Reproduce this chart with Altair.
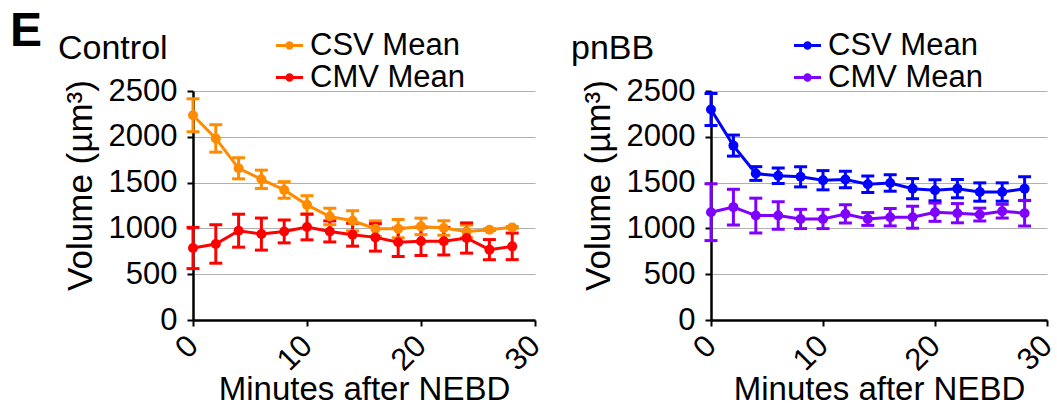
import altair as alt
import pandas as pd

minutes = [0, 2, 4, 6, 8, 10, 12, 14, 16, 18, 20, 22, 24, 26, 28]

ctrl_csv_mean = [2235, 1982, 1656, 1536, 1420, 1257, 1130, 1083, 997, 997, 1022, 1004, 967, 986, 1011]
ctrl_csv_err = [180, 150, 115, 100, 90, 100, 90, 110, 85, 100, 90, 80, 70, 10, 10]
ctrl_cmv_mean = [786, 830, 975, 938, 967, 1015, 967, 931, 902, 848, 859, 859, 895, 768, 804]
ctrl_cmv_err = [225, 210, 180, 175, 125, 140, 115, 125, 150, 155, 155, 150, 165, 110, 145]

pnbb_csv_mean = [2298, 1904, 1599, 1574, 1563, 1526, 1533, 1482, 1496, 1434, 1416, 1434, 1397, 1397, 1434]
pnbb_csv_err = [175, 115, 75, 85, 110, 105, 90, 90, 90, 110, 115, 100, 100, 100, 130]
pnbb_cmv_mean = [1177, 1232, 1140, 1140, 1103, 1103, 1158, 1103, 1122, 1122, 1177, 1166, 1151, 1188, 1166]
pnbb_cmv_err = [310, 195, 190, 150, 105, 105, 100, 70, 95, 120, 100, 105, 70, 75, 140]

series_names = ["CSV Mean", "CMV Mean"]
ctrl_colors = ["#FF8C00", "#FF0000"]
pnbb_colors = ["#0000FF", "#8000FF"]
y_ticks = [0, 500, 1000, 1500, 2000, 2500]
x_ticks = [0, 10, 20, 30]

FONT = "Liberation Sans"
SYMBOL = "M-1,0L1,0M-0.2,0A0.2,0.2,0,1,0,0.2,0A0.2,0.2,0,1,0,-0.2,0"


def make_df(csv_m, csv_e, cmv_m, cmv_e):
    rows = []
    for name, m, e in [(series_names[0], csv_m, csv_e), (series_names[1], cmv_m, cmv_e)]:
        for t, v, s in zip(minutes, m, e):
            rows.append({"t": t, "v": v, "lo": v - s, "hi": v + s, "series": name})
    return pd.DataFrame(rows)


def text_layer(text, dx, dy, size, weight="normal"):
    return alt.Chart(pd.DataFrame({"s": [text]})).mark_text(
        align="left", baseline="alphabetic", fontSize=size, font=FONT,
        fontWeight=weight, color="black"
    ).encode(x=alt.value(dx), y=alt.value(dy), text="s:N")


def panel(df, colors, title, title_dx, with_e, width):
    legend = alt.Legend(
        title=None, orient="none", legendX=81, legendY=-61,
        symbolType=SYMBOL, symbolSize=729, symbolStrokeWidth=3,
        labelFontSize=31, labelFont=FONT, labelColor="black", labelLimit=0,
        labelOffset=5, rowPadding=0, padding=0,
    )
    color = alt.Color("series:N", scale=alt.Scale(domain=series_names, range=colors),
                      sort=series_names, legend=legend)
    x = alt.X("t:Q", scale=alt.Scale(domain=[0, 30], nice=False),
              axis=alt.Axis(values=x_ticks, title="Minutes after NEBD", labelAngle=315,
                            labelAlign="right", labelBaseline="middle", labelPadding=15,
                            grid=False, titlePadding=-2, titleFontSize=33, format="d"))
    yaxis = alt.Axis(values=y_ticks, title="Volume (µm³)", grid=True, labelPadding=10,
                     titlePadding=10, titleFontSize=35, titleY=94, format="d")
    yscale = alt.Scale(domain=[0, 2500], nice=False)
    base = alt.Chart(df)
    rules = base.mark_rule(strokeWidth=3).encode(
        x=x, y=alt.Y("lo:Q", scale=yscale, axis=yaxis), y2="hi:Q", color=color)
    caps_lo = base.mark_tick(orient="horizontal", size=13, thickness=3, opacity=1).encode(
        x=x, y=alt.Y("lo:Q", scale=yscale, axis=yaxis), color=color)
    caps_hi = base.mark_tick(orient="horizontal", size=13, thickness=3, opacity=1).encode(
        x=x, y=alt.Y("hi:Q", scale=yscale, axis=yaxis), color=color)
    line = base.mark_line(strokeWidth=3).encode(
        x=x, y=alt.Y("v:Q", scale=yscale, axis=yaxis), color=color)
    pts = base.mark_point(filled=True, size=100, opacity=1).encode(
        x=x, y=alt.Y("v:Q", scale=yscale, axis=yaxis), color=color)
    layers = [rules, caps_lo, caps_hi, line, pts, text_layer(title, title_dx, -32, 34)]
    if with_e:
        layers.append(text_layer("E", -183, -45, 48, "bold"))
    return alt.layer(*layers).properties(width=width, height=229)


left = panel(make_df(ctrl_csv_mean, ctrl_csv_err, ctrl_cmv_mean, ctrl_cmv_err),
             ctrl_colors, "Control", -135, True, 342)
right = panel(make_df(pnbb_csv_mean, pnbb_csv_err, pnbb_cmv_mean, pnbb_cmv_err),
              pnbb_colors, "pnBB", -140, False, 336)

chart = alt.hconcat(left, right, spacing=23).resolve_scale(color="independent").properties(
    padding={"left": 9, "top": 7, "right": -5, "bottom": 2}
).configure_view(stroke="transparent").configure_axis(
    labelFont=FONT, titleFont=FONT, labelFontSize=31,
    labelColor="black", titleColor="black", titleFontWeight="normal",
    domainColor="black", domainWidth=2.5, tickColor="black", tickWidth=2, tickSize=6,
    gridColor="#b0b0b0", gridWidth=1.2,
)

chart.save("out.html", embed_options={"renderer": "svg", "actions": False})
